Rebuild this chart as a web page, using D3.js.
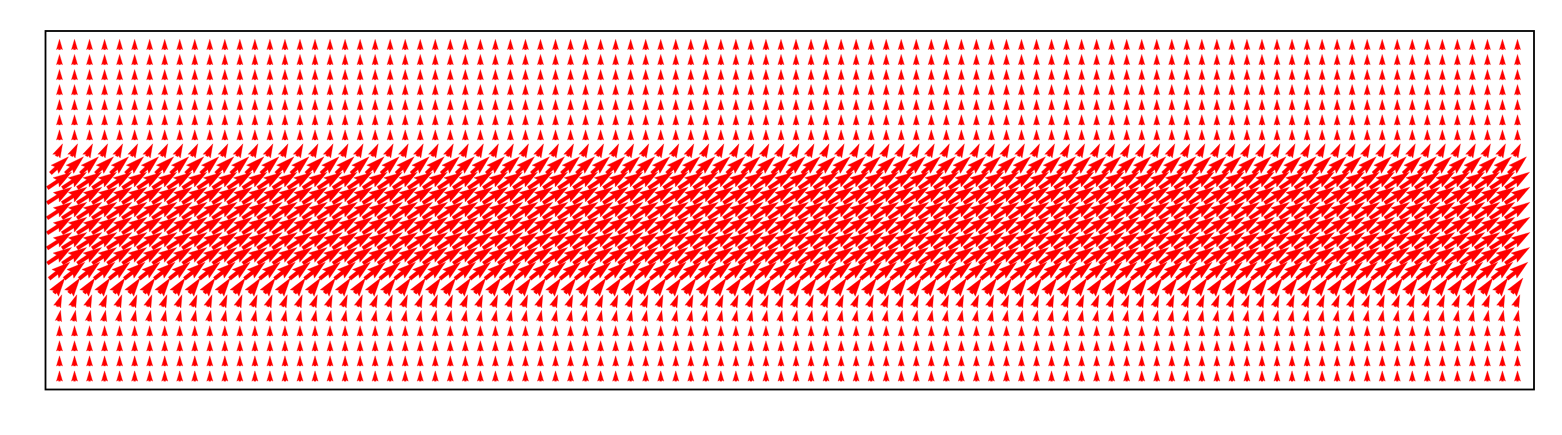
<!DOCTYPE html>
<html><head><meta charset="utf-8">
<script src="https://cdn.jsdelivr.net/npm/d3@7"></script>
<style>body{margin:0;background:#fff}</style>
</head><body>
<script>
// grid
const colIndex = d3.range(98);          // x positions (columns)
const rowIndex = d3.range(23);          // y positions (rows, top to bottom)
// per-row vector components (same for every column)
const rowU = [0,0,0,0,0,0,0,0.6,1.75,2.35,2.4,2.4,2.4,2.4,2.35,2.0,1.05,0.45,0.2,0,0,0,0];
const rowV = [1,1,1,1,1,1,1,1.2,1.6,1.55,1.55,1.55,1.55,1.55,1.55,1.6,1.45,1.15,1.04,1,1,1,1];

const W = 1562, H = 435;
const svg = d3.select("body").append("svg").attr("width", W).attr("height", H);

const x = d3.scaleLinear().domain([0, 97]).range([59.5, 1517.5]);
const y = d3.scaleLinear().domain([0, 22]).range([44.5, 376]);
const len = d3.scaleLinear().domain([0, 1]).range([0, 10.3]);

const w = 3.7; // shaft width px
function arrowPts(L) {
  const minsh = 5 * w;
  let pts;
  if (L >= minsh) {
    pts = [[0,0.5*w],[L-4.5*w,0.5*w],[L-5*w,1.5*w],[L,0],[L-5*w,-1.5*w],[L-4.5*w,-0.5*w],[0,-0.5*w]];
  } else {
    const s = L / minsh;
    pts = [[0,0.5*w],[0.5*w,0.5*w],[0,1.5*w],[5*w,0],[0,-1.5*w],[0.5*w,-0.5*w],[0,-0.5*w]].map(p => [p[0]*s, p[1]*s]);
  }
  const half = pts[3][0] / 2; // pivot middle
  return pts.map(p => [p[0] - half, p[1]]);
}

const data = [];
rowIndex.forEach(r => colIndex.forEach(c => data.push({c, r, u: rowU[r], v: rowV[r]})));

const g = svg.append("g");
g.selectAll("path").data(data).enter().append("path")
  .attr("fill", "red")
  .attr("stroke", "red").attr("stroke-width", 0.3)
  .attr("d", d => {
    const L = len(Math.hypot(d.u, d.v));
    const ang = Math.atan2(-d.v, d.u);
    const ca = Math.cos(ang), sa = Math.sin(ang);
    const x0 = x(d.c), y0 = y(d.r);
    return "M" + arrowPts(L).map(p => [x0 + p[0]*ca - p[1]*sa, y0 + p[0]*sa + p[1]*ca].join(",")).join("L") + "Z";
  });

svg.append("rect").attr("x", 45.5).attr("y", 31).attr("width", 1488.5).attr("height", 358.5)
  .attr("fill", "none").attr("stroke", "black").attr("stroke-width", 1.8);
</script>
</body></html>
